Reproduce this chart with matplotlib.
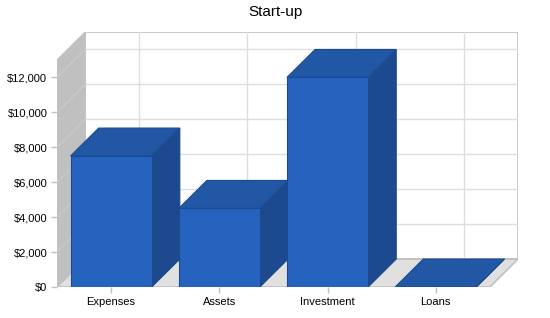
import matplotlib
matplotlib.use("Agg")
import matplotlib.pyplot as plt
from matplotlib.patches import Polygon
from matplotlib.ticker import FuncFormatter

categories = ["Expenses", "Assets", "Investment", "Loans"]
values = [7500, 4500, 12000, 0]
yticks = [0, 2000, 4000, 6000, 8000, 10000, 12000]
title = "Start-up"

plt.rcParams['font.family'] = ['Liberation Sans', 'DejaVu Sans']

YMAX = 13000
DX = 0.26      # depth offset in category units
DY = 1600      # depth offset in value units
BW = 0.375     # half bar width

FRONT = "#2563be"
TOP = "#2257a6"
SIDE = "#1d4a8f"
EDGE = "#1c4a90"

fig = plt.figure(figsize=(5.5, 3.18), dpi=100)
ax = fig.add_axes([57/550, 31/318, 461/550, 255/318])
ax.set_xlim(-0.5, len(categories) - 0.5 + DX)
ax.set_ylim(0, YMAX + DY)
for s in ax.spines.values():
    s.set_visible(False)

x0, x1 = -0.5, len(categories) - 0.5

# back wall
ax.add_patch(Polygon([(x0 + DX, DY), (x1 + DX, DY), (x1 + DX, YMAX + DY), (x0 + DX, YMAX + DY)],
                     closed=True, facecolor="white", edgecolor="#c0c0c0", lw=1.2, zorder=1))
for v in yticks[1:]:
    ax.plot([x0 + DX, x1 + DX], [v + DY, v + DY], color="#dedede", lw=1, zorder=1.5)
for i in range(len(categories)):
    ax.plot([i + DX, i + DX], [DY, YMAX + DY], color="#dedede", lw=1, zorder=1.5)

# left wall
ax.add_patch(Polygon([(x0, 0), (x0, YMAX), (x0 + DX, YMAX + DY), (x0 + DX, DY)],
                     closed=True, facecolor="#c0c0c0", edgecolor="#c0c0c0", lw=0.8, zorder=2))
for v in yticks[1:]:
    ax.plot([x0, x0 + DX], [v, v + DY], color="#cbcbcb", lw=0.8, zorder=2.2)

# floor
ax.add_patch(Polygon([(x0, 0), (x1, 0), (x1 + DX, DY), (x0 + DX, DY)],
                     closed=True, facecolor="#e0e0e0", edgecolor="#c0c0c0", lw=1.2, zorder=2))

# bars
for i, v in enumerate(values):
    l, r = i - BW, i + BW
    z = 3 + i * 0.1
    ax.add_patch(Polygon([(r, 0), (r + DX, DY), (r + DX, v + DY), (r, v)],
                         closed=True, facecolor=SIDE, edgecolor=EDGE, lw=0.8, zorder=z))
    ax.add_patch(Polygon([(l, v), (r, v), (r + DX, v + DY), (l + DX, v + DY)],
                         closed=True, facecolor=TOP, edgecolor=EDGE, lw=0.8, zorder=z))
    if v > 0:
        ax.add_patch(Polygon([(l, 0), (r, 0), (r, v), (l, v)],
                             closed=True, facecolor=FRONT, edgecolor=EDGE, lw=0.8, zorder=z + 0.01))

ax.set_yticks(yticks)
ax.yaxis.set_major_formatter(FuncFormatter(lambda v, p: f"${int(v):,}"))
ax.set_xticks(range(len(categories)))
ax.set_xticklabels(categories)
ax.tick_params(axis="both", labelsize=8, colors="#c0c0c0", labelcolor="black", length=4, width=1)
ax.tick_params(axis="y", pad=3)
ax.tick_params(axis="x", pad=3)

fig.text(0.5, 1 - 12/318, title, ha="center", va="center", fontsize=11)

fig.savefig("out.png", dpi=100)
